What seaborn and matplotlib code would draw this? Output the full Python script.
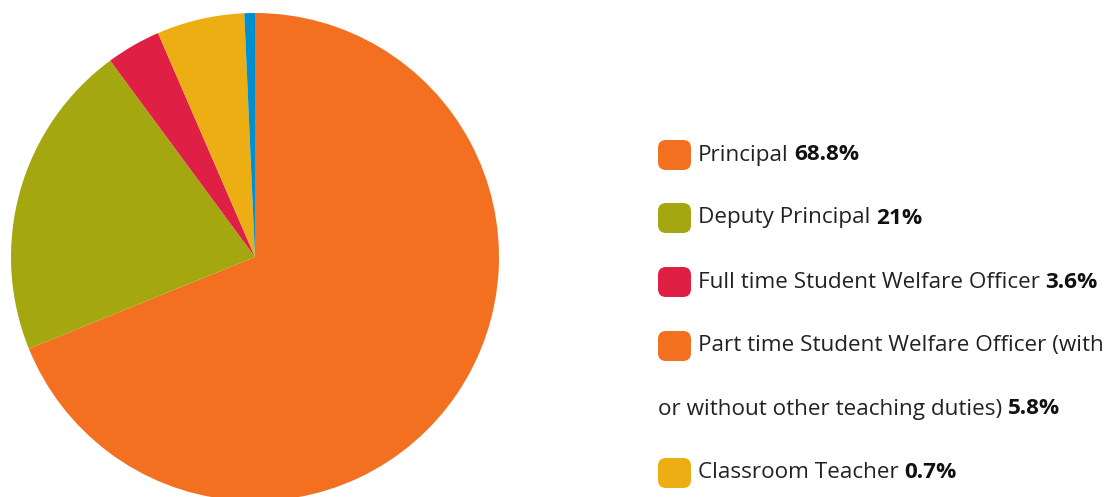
import matplotlib
matplotlib.use("Agg")
import matplotlib.pyplot as plt
import seaborn as sns
from matplotlib.patches import FancyBboxPatch

labels = ["Principal", "Deputy Principal", "Full time Student Welfare Officer",
          "Part time Student Welfare Officer (with or without other teaching duties)",
          "Classroom Teacher"]
values = [68.8, 21.0, 3.6, 5.8, 0.7]
value_text = ["68.8%", "21%", "3.6%", "5.8%", "0.7%"]
pie_colors = ["#F37021", "#A5A711", "#E01F44", "#EDAE13", "#0090D1"]
legend_colors = ["#F37021", "#A5A711", "#E01F44", "#F37021", "#EDAE13"]
legend_lines = [["Principal"], ["Deputy Principal"], ["Full time Student Welfare Officer"],
                ["Part time Student Welfare Officer (with", "or without other teaching duties)"],
                ["Classroom Teacher"]]

sns.set_theme(style="white")
plt.rcParams["font.family"] = ["Open Sans", "DejaVu Sans"]

W, H = 1115, 497
fig = plt.figure(figsize=(W / 100, H / 100), dpi=100)
fig.patch.set_facecolor("white")

cx, cy, r = 255, 257, 244
pax = fig.add_axes([(cx - r) / W, (H - cy - r) / H, 2 * r / W, 2 * r / H])
pax.pie(values, colors=pie_colors, startangle=90, counterclock=False, radius=1,
        wedgeprops=dict(linewidth=0))
pax.set_xlim(-1, 1)
pax.set_ylim(-1, 1)
pax.set_aspect("equal")
pax.axis("off")

lax = fig.add_axes([0, 0, 1, 1])
lax.set_xlim(0, W)
lax.set_ylim(H, 0)
lax.axis("off")

fs = 16.2
row_y = [155, 218, 282, 346, 409, 473]
row = 0
for lines, col, vt in zip(legend_lines, legend_colors, value_text):
    y = row_y[row]
    sw = FancyBboxPatch((658, y - 15), 33, 30, boxstyle="round,pad=0,rounding_size=8",
                        facecolor=col, edgecolor="none", mutation_aspect=1)
    lax.add_patch(sw)
    t = None
    for i, ln in enumerate(lines):
        yy = row_y[row]
        x0 = 698 if i == 0 else 658
        t = lax.text(x0, yy, ln, fontsize=fs, color="#222222", va="center", ha="left")
        row += 1
    lax.annotate(vt, xy=(1, 0.5), xycoords=t, xytext=(4, 0), textcoords="offset points",
                 fontsize=fs, fontweight="bold", color="#111111", va="center", ha="left")

fig.savefig("out.png", dpi=100)
